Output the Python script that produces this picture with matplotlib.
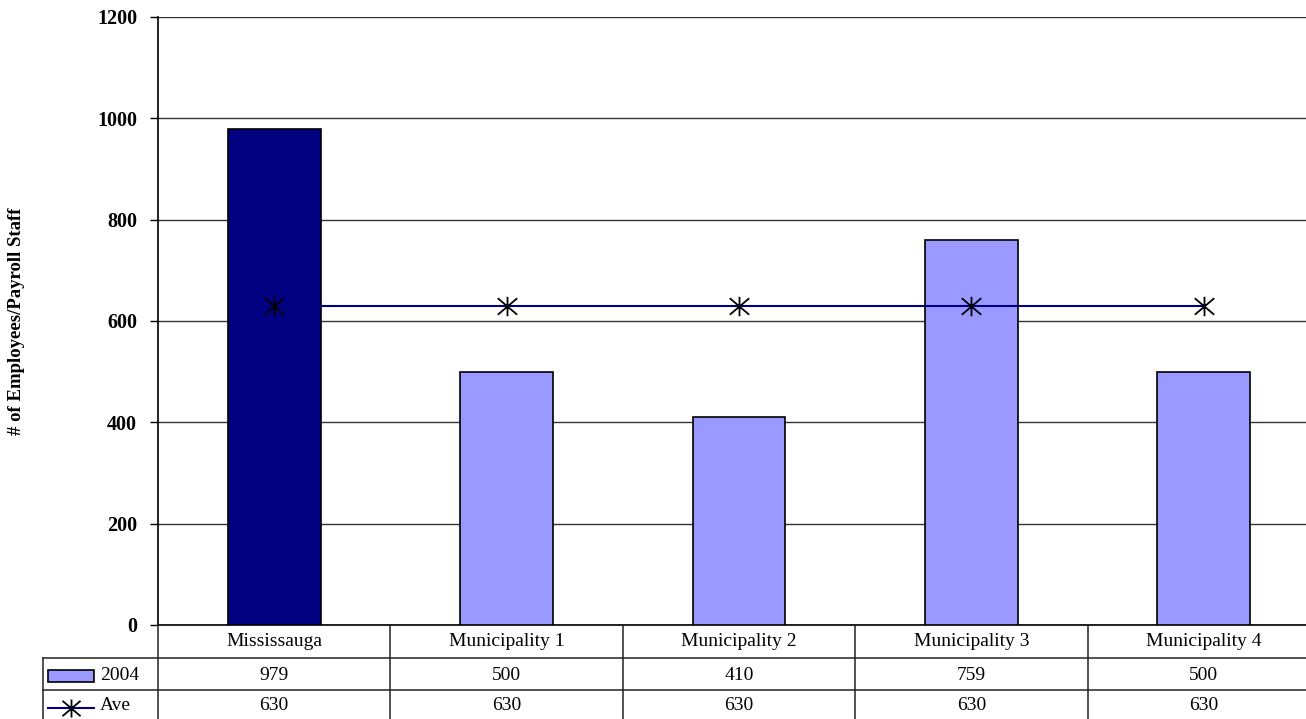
import matplotlib
matplotlib.use("Agg")
import matplotlib.pyplot as plt
from matplotlib.path import Path
from matplotlib.patches import Rectangle
from matplotlib.lines import Line2D
from matplotlib.transforms import blended_transform_factory

categories = ["Mississauga", "Municipality 1", "Municipality 2", "Municipality 3", "Municipality 4"]
staff_2004 = [979, 500, 410, 759, 500]
average = [630, 630, 630, 630, 630]
series_names = ["2004", "Ave"]
y_ticks = [0, 200, 400, 600, 800, 1000, 1200]

W, H = 1306, 719
SERIF = "Liberation Serif"
NAVY = "#000080"
PERIWINKLE = "#9999FF"
TABLE_FS = 14

fig = plt.figure(figsize=(W / 100, H / 100), dpi=100)
ax = fig.add_axes([158 / W, 1 - 625 / H, 1162 / W, 608 / H])

x = list(range(len(categories)))
bar_colors = [NAVY] + [PERIWINKLE] * (len(categories) - 1)
ax.bar(x, staff_2004, width=0.4, color=bar_colors, edgecolor="black", linewidth=1.2, zorder=3)

# Excel-style star marker: an X crossed by a vertical stroke
star = Path([(-1, -0.85), (1, 0.85), (-1, 0.85), (1, -0.85), (0, -1), (0, 1)],
            [Path.MOVETO, Path.LINETO] * 3)
ax.plot(x, average, color=NAVY, linewidth=1.5, zorder=4)
ax.plot(x, average, linestyle="none", marker=star, markersize=14,
        markeredgecolor="black", markerfacecolor="none", markeredgewidth=1.3, zorder=5)

ax.set_xlim(-0.5, len(categories) - 0.5)
ax.set_ylim(0, 1200)
ax.set_yticks(y_ticks)
ax.set_yticklabels([str(t) for t in y_ticks], fontfamily=SERIF, fontweight="bold", fontsize=14.5)
ax.set_xticks([])
ax.tick_params(axis="y", length=6, width=1, pad=9, colors="black")
ax.yaxis.grid(True, color="#333333", linewidth=1)
ax.set_axisbelow(True)
for side in ("top", "right"):
    ax.spines[side].set_visible(False)
ax.spines["left"].set_linewidth(1.2)
ax.spines["bottom"].set_linewidth(1.2)

fig.text(17 / W, 1 - 321 / H, "# of Employees/Payroll Staff", rotation=90,
         ha="center", va="center", fontfamily=SERIF, fontweight="bold", fontsize=13.5)

# Data table beneath the plot
tr = blended_transform_factory(ax.transData, fig.transFigure)
fy = lambda py: 1 - py / H
left_x = -0.995
n = len(categories)
line_kw = dict(color="#222222", linewidth=1.1, clip_on=False)

for yy in (658, 690):
    fig.add_artist(Line2D([left_x, n], [fy(yy), fy(yy)], transform=tr, **line_kw))
fig.add_artist(Line2D([left_x, left_x], [fy(658), fy(730)], transform=tr, **line_kw))
for i in range(n + 1):
    xb = i - 0.5
    fig.add_artist(Line2D([xb, xb], [fy(625), fy(730)], transform=tr, **line_kw))

row_y = [642, 675, 706]
for i, cat in enumerate(categories):
    fig.text(i, fy(row_y[0]), cat, transform=tr, ha="center", va="center",
             fontfamily=SERIF, fontsize=TABLE_FS)
    fig.text(i, fy(row_y[1]), str(staff_2004[i]), transform=tr, ha="center", va="center",
             fontfamily=SERIF, fontsize=TABLE_FS)
    fig.text(i, fy(row_y[2]), str(average[i]), transform=tr, ha="center", va="center",
             fontfamily=SERIF, fontsize=TABLE_FS)

# Legend keys in the row headers
fig.add_artist(Rectangle((48 / W, fy(682)), 46 / W, 12 / H, transform=fig.transFigure,
                         facecolor=PERIWINKLE, edgecolor="black", linewidth=1.2))
fig.text(100 / W, fy(row_y[1]), series_names[0], ha="left", va="center",
         fontfamily=SERIF, fontsize=TABLE_FS)
fig.add_artist(Line2D([48 / W, 94 / W], [fy(708), fy(708)], transform=fig.transFigure,
                      color=NAVY, linewidth=1.5))
fig.add_artist(Line2D([71 / W], [fy(708)], transform=fig.transFigure, linestyle="none",
                      marker=star, markersize=13, markeredgecolor="black",
                      markerfacecolor="none", markeredgewidth=1.3))
fig.text(100 / W, fy(row_y[2]), series_names[1], ha="left", va="center",
         fontfamily=SERIF, fontsize=TABLE_FS)

fig.savefig("out.png", dpi=100, facecolor="white")
